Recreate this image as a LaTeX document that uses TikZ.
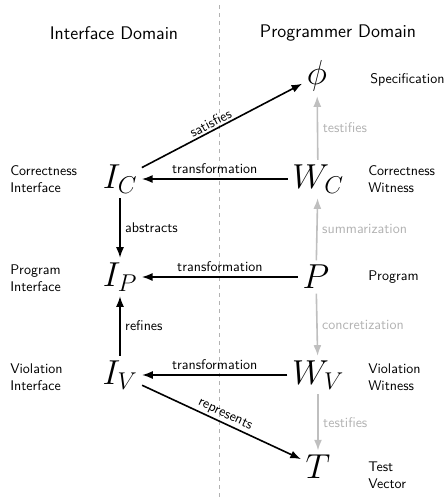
\documentclass[tikz,border=0pt]{standalone}
\usepackage{fix-cm}
\usetikzlibrary{arrows.meta}

\begin{document}
\begin{tikzpicture}[x=0.75pt, y=-0.75pt,
  term/.style={font=\fontsize{26}{30}\selectfont},
  caption/.style={font=\sffamily\fontsize{10.5}{12.5}\selectfont, align=left, anchor=west, inner sep=0pt},
  heading/.style={font=\sffamily\fontsize{13.7}{16}\selectfont},
  edgelabel/.style={font=\sffamily\fontsize{10.5}{12.5}\selectfont},
  relation/.style={-{Latex[length=8pt,width=6pt]}, line width=1.2pt},
  derivation/.style={relation, draw=black!25, text=black!30},
  divider/.style={dashed, draw=black!30, line width=0.5pt}]
\useasboundingbox (0,0) rectangle (446,497);

% the two domains
\node (ifdomain) at (114,33) [heading] {Interface Domain};
\node (pgdomain) at (338,33) [heading] {Programmer Domain};
\coordinate (divtop) at (219,5);
\coordinate (divbot) at (219,497);
\draw[divider] (divtop) -- (divbot);

% terms
\node (phi) at (317,76) [term] {$\phi$};
\node (ic) at (120,179) [term] {$I_C$};
\node (wc) at (318,179) [term] {$W_C$};
\node (ip) at (120,277) [term] {$I_P$};
\node (p) at (316,277) [term] {$P$};
\node (iv) at (120,375) [term] {$I_V$};
\node (wv) at (318,375) [term] {$W_V$};
\node (t) at (318,467) [term] {$T$};

% captions
\node (spec) at (370,80) [caption] {Specification};
\node (cint) at (10,179) [caption] {Correctness\\Interface};
\node (cwit) at (368,179) [caption] {Correctness\\Witness};
\node (pint) at (10,278) [caption] {Program\\Interface};
\node (prog) at (368,277) [caption] {Program};
\node (vint) at (10,377) [caption] {Violation\\Interface};
\node (vwit) at (368,377) [caption] {Violation\\Witness};
\node (tvec) at (368,475) [caption] {Test\\Vector};

% interface side
\draw[relation] (ic) -- node[edgelabel, above, sloped, pos=0.45, inner sep=1.5pt] {satisfies} (phi);
\draw[relation] (wc) -- node[edgelabel, above] {transformation} (ic);
\draw[relation] (ic) -- node[edgelabel, right] {abstracts} (ip);
\draw[relation] (p) -- node[edgelabel, above] {transformation} (ip);
\draw[relation] (iv) -- node[edgelabel, right] {refines} (ip);
\draw[relation] (wv) -- node[edgelabel, above] {transformation} (iv);
\draw[relation] (iv) -- node[edgelabel, above, sloped, inner sep=1.5pt] {represents} (t);

% programmer side
\draw[derivation] (wc) -- node[edgelabel, right] {testifies} (phi);
\draw[derivation] (p) -- node[edgelabel, right] {summarization} (wc);
\draw[derivation] (p) -- node[edgelabel, right] {concretization} (wv);
\draw[derivation] (wv) -- node[edgelabel, right] {testifies} (t);
\end{tikzpicture}
\end{document}
